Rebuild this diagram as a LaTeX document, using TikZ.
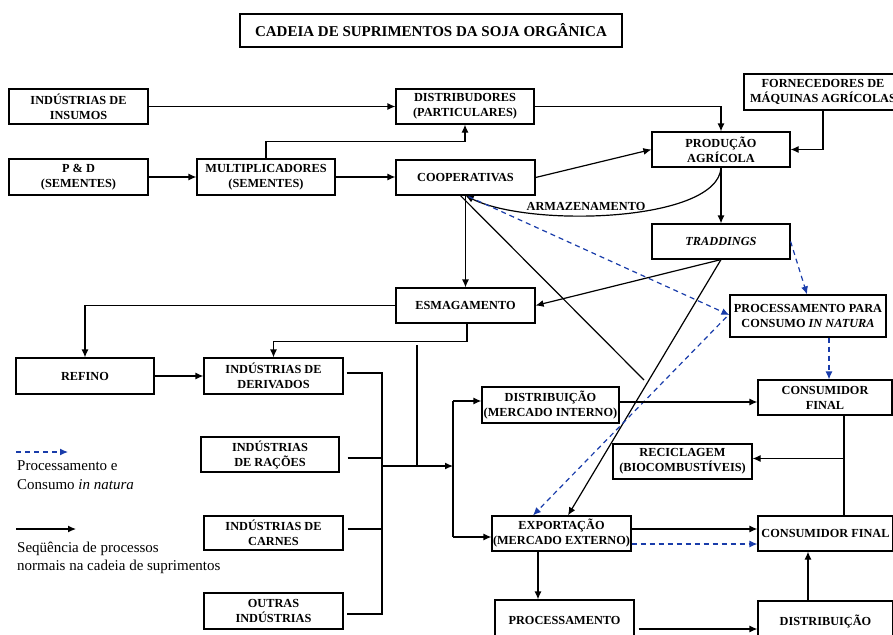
\documentclass[tikz,border=0pt]{standalone}
\usepackage{fontspec}
\setmainfont{Liberation Serif}
\usetikzlibrary{arrows.meta,calc}
\definecolor{dblue}{RGB}{25,60,170}
\newcommand\boxfnt{\bfseries\fontsize{12.3}{15}\selectfont}
\begin{document}
\begin{tikzpicture}[x=1pt,y=-1pt,
  box/.style={draw, line width=1.2pt, align=center, inner sep=1pt, font=\boxfnt},
  conn/.style={line width=1.2pt},
  arr/.style={conn, -{Latex[length=8pt,width=7pt]}},
  darr/.style={line width=1.2pt, dblue, dash pattern=on 5pt off 4pt, -{Latex[length=8pt,width=7pt]}},
  lbl/.style={font=\boxfnt, inner sep=0pt},
  legend/.style={font=\fontsize{15}{18.5}\selectfont, align=left, anchor=west, inner sep=0pt}]
\path[use as bounding box, clip] (0,0) rectangle (893,634);

% title
\node[box, font=\bfseries\fontsize{15}{18}\selectfont, minimum width=382pt, minimum height=33pt] (title) at (431,30.5) {CADEIA DE SUPRIMENTOS DA SOJA ORGÂNICA};

% boxes
\node[box, minimum width=139pt, minimum height=35pt] (insumos) at (78.5,106.5) {INDÚSTRIAS DE\\INSUMOS};
\node[box, minimum width=139pt, minimum height=36pt] (pd) at (78.5,177) {P \& D\\(SEMENTES)};
\node[box, minimum width=138pt, minimum height=36pt] (mult) at (266,177) {MULTIPLICADORES\\(SEMENTES)};
\node[box, minimum width=138pt, minimum height=35pt] (distp) at (465,106.5) {DISTRIBUDORES\\(PARTICULARES)};
\node[box, minimum width=139pt, minimum height=35pt] (coop) at (465.5,177.5) {COOPERATIVAS};
\node[box, minimum width=158pt, minimum height=36pt] (forn) at (823,92) {FORNECEDORES DE\\MÁQUINAS AGRÍCOLAS};
\node[box, minimum width=138pt, minimum height=35pt] (prod) at (721,149.5) {PRODUÇÃO\\AGRÍCOLA};
\node[box, minimum width=138pt, minimum height=35pt] (trad) at (721,241.5) {\textit{TRADDINGS}};
\node[box, minimum width=139pt, minimum height=35pt] (esmag) at (465.5,305.5) {ESMAGAMENTO};
\node[box, minimum width=156pt, minimum height=42pt] (procnat) at (808,316) {PROCESSAMENTO PARA\\CONSUMO \textit{IN NATURA}};
\node[box, minimum width=138pt, minimum height=36pt] (refino) at (85,376) {REFINO};
\node[box, minimum width=139pt, minimum height=36pt] (deriv) at (273.5,376) {INDÚSTRIAS DE\\DERIVADOS};
\node[box, minimum width=134pt, minimum height=35pt] (cons1) at (825,397.5) {CONSUMIDOR\\FINAL};
\node[box, minimum width=137pt, minimum height=36pt] (distint) at (550.5,405) {DISTRIBUIÇÃO\\(MERCADO INTERNO)};
\node[box, minimum width=138pt, minimum height=35pt] (racoes) at (270,454.5) {INDÚSTRIAS\\DE RAÇÕES};
\node[box, minimum width=139pt, minimum height=35pt] (recic) at (682.5,461.5) {RECICLAGEM\\(BIOCOMBUSTÍVEIS)};
\node[box, minimum width=139pt, minimum height=34pt] (carnes) at (273.5,533) {INDÚSTRIAS DE\\CARNES};
\node[box, minimum width=139pt, minimum height=35pt] (export) at (561.5,533.5) {EXPORTAÇÃO\\(MERCADO EXTERNO)};
\node[box, minimum width=135pt, minimum height=35pt] (cons2) at (825.5,533.5) {CONSUMIDOR FINAL};
\node[box, minimum width=139pt, minimum height=36pt] (outras) at (273.5,611) {OUTRAS\\INDÚSTRIAS};
\node[box, minimum width=139pt, minimum height=40pt] (proc) at (564.5,620) {PROCESSAMENTO};
\node[box, minimum width=135pt, minimum height=40pt] (dist) at (825.5,621) {DISTRIBUIÇÃO};

% upper connectors
\draw[arr] (insumos.east) -- (distp.west);
\draw[arr] (pd.east) -- (mult.west);
\draw[arr] (mult.east) -- (mult.east -| coop.west);
\draw[arr] (mult.north) -- ++(0,-17) -| (distp.south);
\draw[arr] (distp.east) -| (prod.north);
\draw[arr] (forn.south) |- (prod.east);
\draw[arr] (coop.east) -- (prod.west);
\draw[arr] (prod.south) -- (trad.north);
\draw[arr] (prod.south) .. controls (718,222) and (530,228) .. (coop.south);
\node[lbl] (arm) at (586,206) {ARMAZENAMENTO};
\draw[arr] (coop.south) -- (esmag.north);
\coordinate (dend) at (644,380);
\draw[conn] ($(coop.south)+(-5,0)$) -- (dend);
\draw[darr] ($(coop.south)+(3,1)$) -- ($(procnat.west)+(0,-1)$);
\draw[arr] (trad.south) -- (esmag.east);
\draw[arr] (trad.south) -- ($(export.north)+(6.5,0)$);
\draw[darr] (trad.east) -- ($(procnat.north)+(-1,0)$);
\draw[darr] ($(procnat.west)+(-3,1)$) -- ($(export.north)+(-28.5,0)$);
\draw[darr] ($(procnat.south)+(21,0)$) -- ($(cons1.north)+(4,0)$);

% right side
\draw[arr] ($(distint.east)+(0,-3)$) coordinate (di) -- (di -| cons1.west);
\coordinate (c1) at ($(cons1.south)+(19,0)$);
\draw[conn] (c1) -- (c1 |- cons2.north);
\draw[arr] ($(c1 |- recic.east)+(0,-3)$) coordinate (rc) -- (rc -| recic.east);
\draw[arr] ($(export.east)+(0,-4.5)$) coordinate (e1) -- (e1 -| cons2.west);
\draw[darr] ($(export.east)+(0,10.5)$) coordinate (e2) -- (e2 -| cons2.west);
\draw[arr] ($(export.south)+(-23.5,0)$) coordinate (e3) -- (e3 |- proc.north);
\draw[arr] ($(proc.east)+(4,9)$) coordinate (p1) -- (p1 -| dist.west);
\draw[arr] ($(dist.north)+(-17.5,0)$) coordinate (d1) -- (d1 |- cons2.south);

% left side
\draw[arr] (esmag.west) -| (refino.north);
\draw[arr] (refino.east) -- (deriv.west);
\draw[arr] ($(esmag.south)+(1.5,0)$) -- ++(0,18) -| (deriv.north);
\coordinate (bl) at (382,466);
\coordinate (br) at (453,466);
\coordinate (vtop) at (453,401);
\coordinate (vbot) at (453,537);
\coordinate (vfree) at (417,345);
\draw[conn] ($(deriv.east)+(3,-3)$) -| (382,614) -- ($(outras.east)+(3,3)$);
\draw[conn] ($(racoes.east)+(8,3.5)$) coordinate (r1) -- (r1 -| bl);
\draw[conn] ($(carnes.east)+(4,-4)$) coordinate (k1) -- (k1 -| bl);
\draw[conn] (vfree) -- (vfree |- bl);
\draw[arr] (bl) -- (br);
\draw[conn] (vtop) -- (vbot);
\draw[arr] (vtop) -- (vtop -| distint.west);
\draw[arr] (vbot) -- (vbot -| export.west);

% legend
\coordinate (l1a) at (16,452);
\coordinate (l1b) at (68,452);
\draw[darr] (l1a) -- (l1b);
\node[legend] (lg1) at (17,475) {Processamento e\\Consumo \textit{in natura}};
\coordinate (l2a) at (16,529);
\coordinate (l2b) at (76,529);
\draw[arr] (l2a) -- (l2b);
\node[legend] (lg2) at (17,558) {Seqüência de processos\\normais na cadeia de suprimentos};
\end{tikzpicture}
\end{document}
